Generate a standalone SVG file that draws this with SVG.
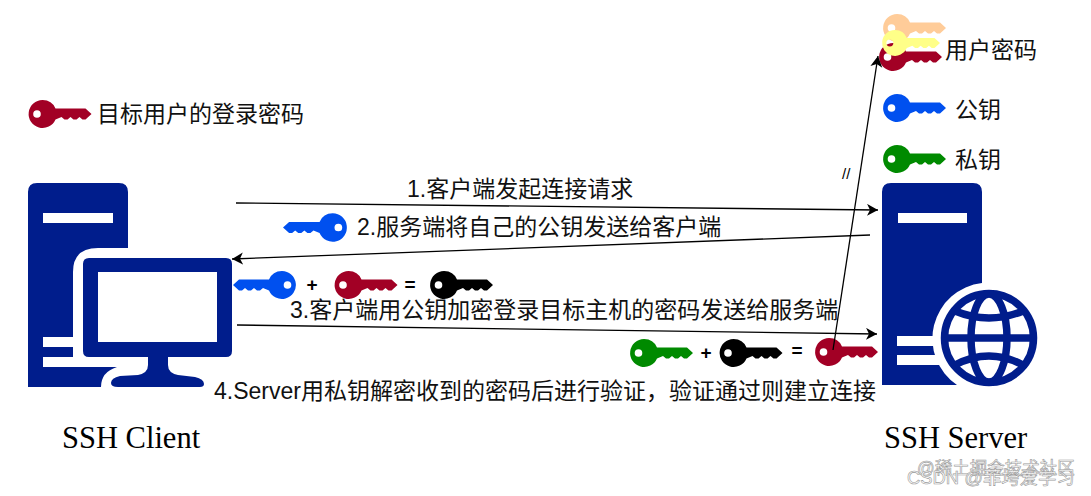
<svg xmlns="http://www.w3.org/2000/svg" width="1091" height="496" viewBox="0 0 1091 496">
<style>
text{font-family:"Liberation Sans","Noto Sans CJK SC",sans-serif;fill:#111}
.l{font-size:23px}
.op{font-size:19px;font-weight:bold;text-anchor:middle;fill:#000}
.s{font-family:"Liberation Serif","Noto Sans CJK SC",serif;font-size:30.500px;fill:#000}
.w{fill:#fff;stroke:#999;stroke-width:.6}
.c{fill:none;stroke:#000;stroke-width:1.3;marker-end:url(#a)}
.n{fill:#001d8c}
.b{fill:#fff}
</style>
<defs>
<marker id="a" markerUnits="userSpaceOnUse" markerWidth="14" markerHeight="14" refX="11" refY="6" orient="auto"><path d="M0 0L11 6L0 12L3 6z" fill="#000"/></marker>
<symbol id="key" viewBox="0 0 63 28" overflow="visible"><path fill-rule="evenodd" d="M14 0A14 14 0 0 1 27 8.500L57 8.500L63 14L57 19.500L54 19.500L51 17L48 19.500L45 19.500L42 17L39 19.500L36 19.500L33 17L27 19.500A14 14 0 1 1 14 0zM8.500 10.200A3.800 3.800 0 1 0 8.500 17.800A3.800 3.800 0 1 0 8.500 10.200z"/></symbol>
</defs>
<g id="legend-target"><use href="#key" x="28" y="100" width="64" height="28" fill="#a20025"/><text class="l" x="97" y="122">目标用户的登录密码</text></g>
<g id="legend-password">
<use href="#key" x="883" y="14" width="63" height="28" fill="#ffcc99"/>
<use href="#key" x="879" y="43" width="63" height="28" fill="#a20025"/>
<use href="#key" x="882" y="30" width="58" height="26" fill="#ffff88"/>
<text class="l" x="945" y="58">用户密码</text></g>
<g id="legend-public"><use href="#key" x="883" y="94" width="63" height="28" fill="#0050ef"/><text class="l" x="955" y="118">公钥</text></g>
<g id="legend-private"><use href="#key" x="883" y="145" width="63" height="28" fill="#008a00"/><text class="l" x="955" y="168">私钥</text></g>
<g id="client">
<path class="n" d="M28 387V192Q28 183 37 183H119Q128 183 128 192V248H98Q73 248 73 272V357H43V367H117Q101 372 101 387z"/>
<rect class="b" x="43" y="213" width="70" height="10"/>
<rect class="b" x="43" y="337" width="30" height="10"/>
<path class="n" d="M89 258H226Q232 258 232 264V351Q232 357 226 357H168V365Q168 373 178 375L195 377Q204 379 204 384Q204 387 200 387H118Q111 387 111 383Q111 378 120 376L138 375Q148 373 148 365V357H89Q83 357 83 351V264Q83 258 89 258z"/>
<rect class="b" x="98" y="272" width="119" height="70"/>
<text class="s" x="62" y="448">SSH Client</text>
</g>
<g id="server">
<path class="n" d="M882 385V192Q882 183 891 183H973Q982 183 982 192V283A56 56 0 0 0 957 385z"/>
<rect class="b" x="898" y="213" width="69" height="10"/>
<rect class="b" x="897" y="336" width="37" height="10"/>
<rect class="b" x="897" y="355" width="43" height="10"/>
<g fill="none" stroke="#001d8c" stroke-width="7.500">
<circle cx="989" cy="338" r="44.500"/>
<ellipse cx="989" cy="338" rx="18" ry="44"/>
<path d="M945 338H1033"/>
<path d="M955 311Q989 325 1023 311M955 365Q989 347 1023 365"/>
</g>
<text class="s" x="884" y="448">SSH Server</text>
</g>
<g id="step1"><text class="l" x="407" y="197">1.客户端发起连接请求</text></g>
<g id="step2"><use href="#key" transform="translate(347 213) scale(-1 1)" width="64" height="29" fill="#0050ef"/><text class="l" x="357" y="235">2.服务端将自己的公钥发送给客户端</text></g>
<g id="step3">
<use href="#key" transform="translate(296 271) scale(-1 1)" width="63" height="28" fill="#0050ef"/>
<text class="op" x="312" y="291">+</text>
<use href="#key" x="334" y="271" width="64" height="28" fill="#a20025"/>
<text class="op" x="410" y="291">=</text>
<use href="#key" x="430" y="271" width="63" height="28" fill="#000"/>
<text class="l" x="290" y="318">3.客户端用公钥加密登录目标主机的密码发送给服务端</text>
</g>
<g id="step4">
<use href="#key" x="630" y="339" width="63" height="28" fill="#008a00"/>
<text class="op" x="706" y="359">+</text>
<use href="#key" x="719" y="339" width="64" height="28" fill="#000"/>
<text class="op" x="797" y="357">=</text>
<use href="#key" x="815" y="338" width="63" height="28" fill="#a20025"/>
<text class="l" x="214" y="399">4.Server用私钥解密收到的密码后进行验证，验证通过则建立连接</text>
</g>
<g id="connectors">
<path class="c" d="M236 203L878 210"/>
<path class="c" d="M870 235L232 259"/>
<path class="c" d="M237 325L877 334"/>
<path class="c" d="M833 350L878 56"/>
</g>
<g id="mark"><text x="842" y="179" font-size="15" style="fill:#000">//</text></g>
<g id="watermark">
<text class="w" x="917" y="474" font-size="17.500">@稀土掘金技术社区</text>
<text class="w" x="907" y="484" font-size="18.400">CSDN @菲垮爱学习</text>
</g>
</svg>
